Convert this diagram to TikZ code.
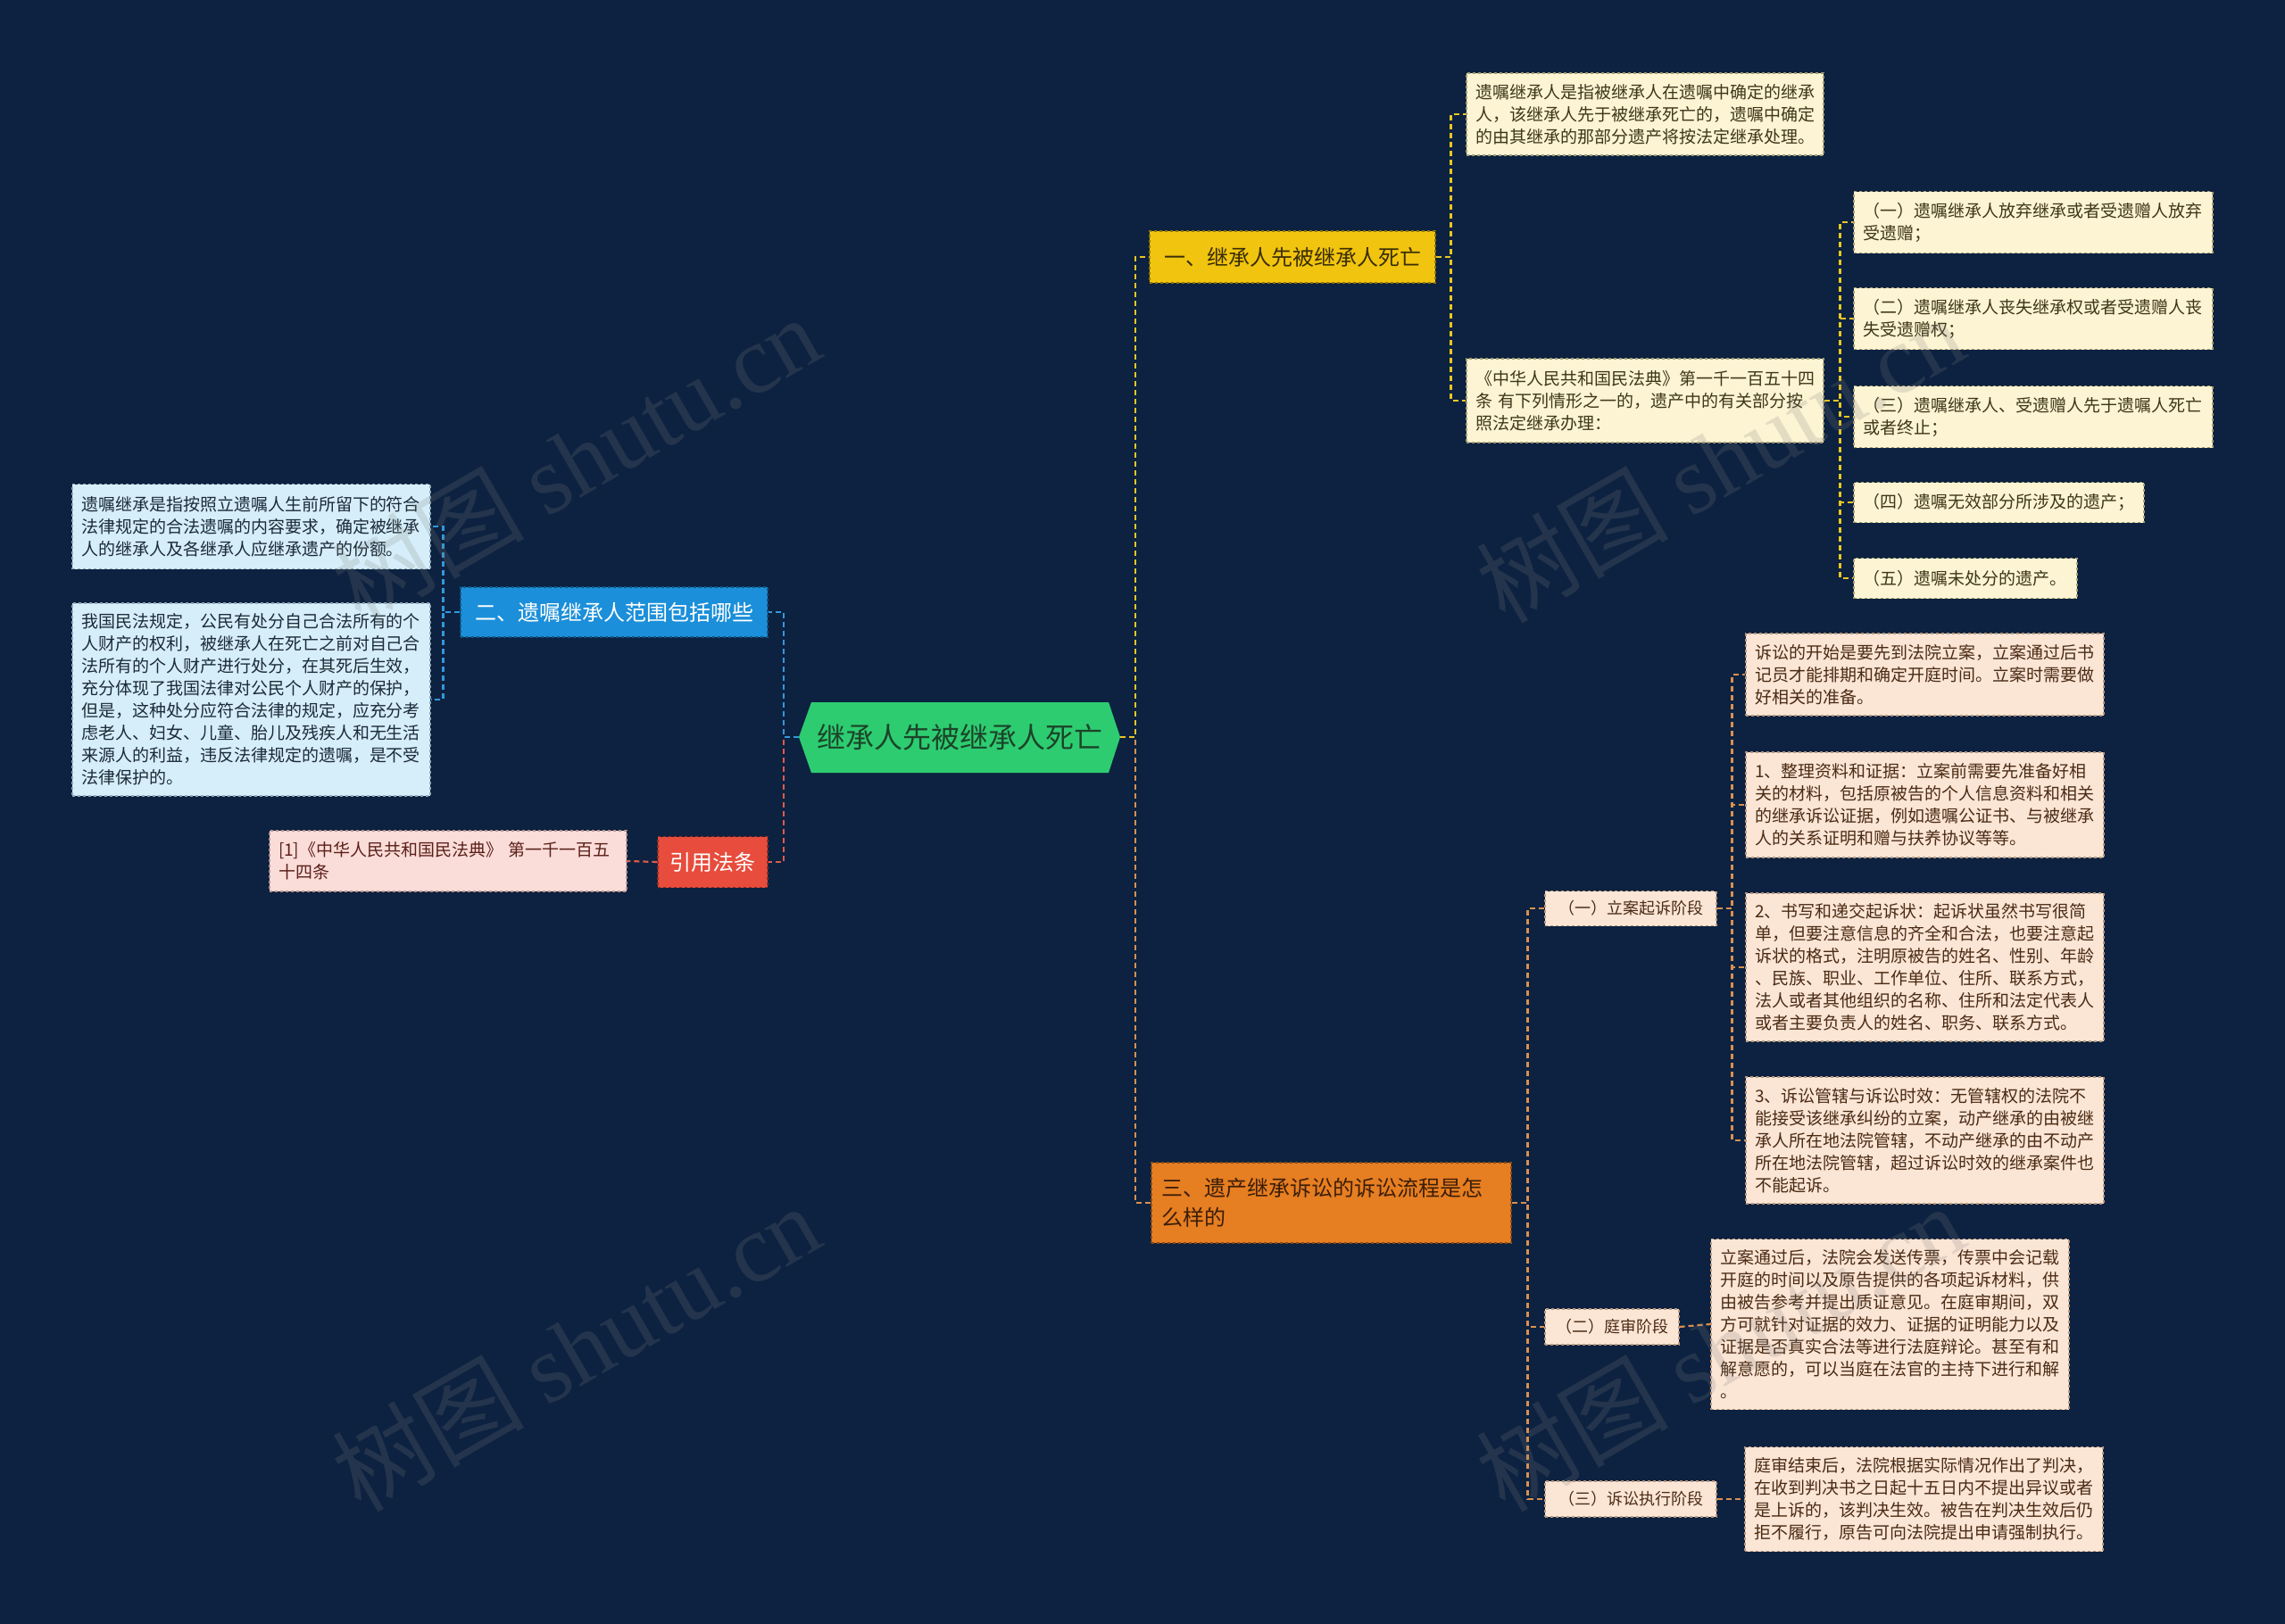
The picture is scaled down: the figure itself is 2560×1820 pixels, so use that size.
\documentclass[tikz,border=0pt]{standalone}
\usepackage{fontspec}
\setmainfont{Noto Sans CJK SC}
\newfontfamily\wmlat{Liberation Serif}
\usetikzlibrary{calc}
\newcommand\fsz[2]{\fontsize{#1}{#2}\selectfont}
\definecolor{bg}{HTML}{0C2240}
\definecolor{rootG}{HTML}{2ECC71}
\definecolor{rootT}{HTML}{1B4429}
\definecolor{yel}{HTML}{F1C40F}
\definecolor{yelT}{HTML}{3A2E05}
\definecolor{yelLeaf}{HTML}{FCF4D3}
\definecolor{yelLeafT}{HTML}{3E3619}
\definecolor{yelB}{HTML}{A89C70}
\definecolor{yelLine}{HTML}{E9C623}
\definecolor{ora}{HTML}{E67E22}
\definecolor{oraT}{HTML}{3C1E08}
\definecolor{peach}{HTML}{FBE5D5}
\definecolor{peachT}{HTML}{4A2B14}
\definecolor{peachB}{HTML}{B8977E}
\definecolor{oraLine}{HTML}{D99050}
\definecolor{blu}{HTML}{1B8FD9}
\definecolor{bluLeaf}{HTML}{D6EEF9}
\definecolor{bluLeafT}{HTML}{1B2B38}
\definecolor{bluB}{HTML}{8FAABB}
\definecolor{bluLine}{HTML}{3498DB}
\definecolor{redB}{HTML}{E74C3C}
\definecolor{pink}{HTML}{FADCD8}
\definecolor{pinkT}{HTML}{5A1F18}
\definecolor{pinkB}{HTML}{B89490}
\definecolor{redLine}{HTML}{E05A4C}
\tikzset{
  conn/.style={line width=2.2pt, dash pattern=on 6pt off 4pt},
  cy/.style={conn, draw=yelLine},
  co/.style={conn, draw=oraLine},
  cb/.style={conn, draw=bluLine},
  cr/.style={conn, draw=redLine},
  boxbase/.style={dashed, line width=1.1pt, inner ysep=0pt, anchor=center},
  branch/.style={boxbase, font=\fsz{24}{30}, align=center, inner xsep=0pt},
  bY/.style={branch, fill=yel, draw=yel!60!black, text=yelT},
  bB/.style={branch, fill=blu, draw=blu!60!black, text=white},
  bR/.style={branch, fill=redB, draw=redB!60!black, text=white},
  bO/.style={boxbase, fill=ora, draw=ora!60!black, text=oraT, font=\fsz{24}{33}, align=left, inner xsep=11pt},
  leaf/.style={boxbase, font=\fsz{19}{25}, align=left, inner xsep=10pt},
  lY/.style={leaf, fill=yelLeaf, draw=yelB, text=yelLeafT},
  lP/.style={leaf, fill=peach, draw=peachB, text=peachT},
  lB/.style={leaf, fill=bluLeaf, draw=bluB, text=bluLeafT},
  lK/.style={leaf, fill=pink, draw=pinkB, text=pinkT},
  stage/.style={boxbase, fill=peach, draw=peachB, text=peachT, font=\fsz{18}{22}, align=center, inner xsep=0pt},
  wm/.style={rotate=30, text=gray, opacity=0.2, font=\fsz{108}{112}}
}
\begin{document}
\begin{tikzpicture}[x=1pt,y=-1pt]
\fill[bg] (0,0) rectangle (2560,1820);
\useasboundingbox (0,0) rectangle (2560,1820);

% root hexagon
\fill[rootG] (895,826) -- (909,787) -- (1242,787) -- (1255,826) -- (1242,866) -- (909,866) -- cycle;
\node[minimum width=360pt, minimum height=79pt, inner sep=0pt, text=rootT, font=\fsz{32}{38}] (root) at (1075,826) {继承人先被继承人死亡};

% branch 1
\node[bY, minimum width=320pt, minimum height=58pt] (b1) at (1448,288) {一、继承人先被继承人死亡};
\node[lY, text width=380pt, minimum height=92pt] (l1a) at (1843,128) {遗嘱继承人是指被继承人在遗嘱中确定的继承\\人，该继承人先于被继承死亡的，遗嘱中确定\\的由其继承的那部分遗产将按法定继承处理。};
\node[lY, text width=380pt, minimum height=94pt] (l1b) at (1843,449) {《中华人民共和国民法典》第一千一百五十四\\条 有下列情形之一的，遗产中的有关部分按\\照法定继承办理：};
\node[lY, text width=382pt, minimum height=69pt] (i1) at (2278,249) {（一）遗嘱继承人放弃继承或者受遗赠人放弃\\受遗赠；};
\node[lY, text width=382pt, minimum height=69pt] (i2) at (2278,357) {（二）遗嘱继承人丧失继承权或者受遗赠人丧\\失受遗赠权；};
\node[lY, text width=382pt, minimum height=69pt] (i3) at (2278,467) {（三）遗嘱继承人、受遗赠人先于遗嘱人死亡\\或者终止；};
\node[lY, text width=305pt, minimum height=45pt] (i4) at (2239.5,563) {（四）遗嘱无效部分所涉及的遗产；};
\node[lY, text width=230pt, minimum height=45pt] (i5) at (2202,648) {（五）遗嘱未处分的遗产。};

% branch 2
\node[bB, minimum width=344pt, minimum height=56pt] (b2) at (688,686) {二、遗嘱继承人范围包括哪些};
\node[lB, text width=381pt, minimum height=95pt] (l2a) at (281.5,590) {遗嘱继承是指按照立遗嘱人生前所留下的符合\\法律规定的合法遗嘱的内容要求，确定被继承\\人的继承人及各继承人应继承遗产的份额。};
\node[lB, text width=381pt, minimum height=216pt] (l2b) at (281.5,784) {我国民法规定，公民有处分自己合法所有的个\\人财产的权利，被继承人在死亡之前对自己合\\法所有的个人财产进行处分，在其死后生效，\\充分体现了我国法律对公民个人财产的保护，\\但是，这种处分应符合法律的规定，应充分考\\虑老人、妇女、儿童、胎儿及残疾人和无生活\\来源人的利益，违反法律规定的遗嘱，是不受\\法律保护的。};

% references
\node[bR, minimum width=123pt, minimum height=57pt] (br) at (798.5,966) {引用法条};
\node[lK, text width=380pt, minimum height=68pt] (lr) at (502,965) {[1]《中华人民共和国民法典》 第一千一百五\\十四条};

% branch 3
\node[bO, text width=381pt, minimum height=90pt] (b3) at (1491.5,1348) {三、遗产继承诉讼的诉讼流程是怎\\么样的};
\node[stage, minimum width=192pt, minimum height=39pt] (s1) at (1827,1018) {（一）立案起诉阶段};
\node[stage, minimum width=150pt, minimum height=40pt] (s2) at (1806,1487) {（二）庭审阶段};
\node[stage, minimum width=192pt, minimum height=40pt] (s3) at (1827,1680) {（三）诉讼执行阶段};

\node[lP, text width=381pt, minimum height=92pt] (d0) at (2156.5,756) {诉讼的开始是要先到法院立案，立案通过后书\\记员才能排期和确定开庭时间。立案时需要做\\好相关的准备。};
\node[lP, text width=381pt, minimum height=118pt] (d1) at (2156.5,902) {1、整理资料和证据：立案前需要先准备好相\\关的材料，包括原被告的个人信息资料和相关\\的继承诉讼证据，例如遗嘱公证书、与被继承\\人的关系证明和赠与扶养协议等等。};
\node[lP, text width=381pt, minimum height=166pt] (d2) at (2156.5,1084) {2、书写和递交起诉状：起诉状虽然书写很简\\单，但要注意信息的齐全和合法，也要注意起\\诉状的格式，注明原被告的姓名、性别、年龄\\、民族、职业、工作单位、住所、联系方式，\\法人或者其他组织的名称、住所和法定代表人\\或者主要负责人的姓名、职务、联系方式。};
\node[lP, text width=381pt, minimum height=142pt] (d3) at (2156.5,1278) {3、诉讼管辖与诉讼时效：无管辖权的法院不\\能接受该继承纠纷的立案，动产继承的由被继\\承人所在地法院管辖，不动产继承的由不动产\\所在地法院管辖，超过诉讼时效的继承案件也\\不能起诉。};
\node[lP, text width=381pt, minimum height=191pt] (d4) at (2117.5,1484) {立案通过后，法院会发送传票，传票中会记载\\开庭的时间以及原告提供的各项起诉材料，供\\由被告参考并提出质证意见。在庭审期间，双\\方可就针对证据的效力、证据的证明能力以及\\证据是否真实合法等进行法庭辩论。甚至有和\\解意愿的，可以当庭在法官的主持下进行和解\\。};
\node[lP, text width=381pt, minimum height=117pt] (d5) at (2155.5,1680) {庭审结束后，法院根据实际情况作出了判决，\\在收到判决书之日起十五日内不提出异议或者\\是上诉的，该判决生效。被告在判决生效后仍\\拒不履行，原告可向法院提出申请强制执行。};

% connectors right
\draw[co] (root.east) -- ++(17,0) |- (b3.west);
\draw[cy] (root.east) -- ++(17,0) |- (b1.west);
\draw[cy] (b1.east) -- ++(17,0) |- (l1a.west);
\draw[cy] (b1.east) -- ++(17,0) |- (l1b.west);
\foreach \n in {i1,i2,i3,i4,i5} \draw[cy] (l1b.east) -- ++(18,0) |- (\n.west);
\foreach \n in {s1,s2,s3} \draw[co] (b3.east) -- ++(18,0) |- (\n.west);
\foreach \n in {d0,d1,d2,d3} \draw[co] (s1.east) -- ++(17,0) |- (\n.west);
\draw[co] (s2.east) -- (d4.west);
\draw[co] (s3.east) -- (d5.west);
% connectors left
\draw[cr] (root.west) -- ++(-17,0) |- (br.east);
\draw[cb] (root.west) -- ++(-17,0) |- (b2.east);
\draw[cb] (b2.west) -- ++(-19,0) |- (l2a.east);
\draw[cb] (b2.west) -- ++(-19,0) |- (l2b.east);
\draw[cr] (br.west) -- (lr.east);

% watermarks
\node[wm] (wm1) at (645,514) {树图 {\wmlat shutu.cn}};
\node[wm] (wm2) at (1927,514) {树图 {\wmlat shutu.cn}};
\node[wm] (wm3) at (645,1510) {树图 {\wmlat shutu.cn}};
\node[wm] (wm4) at (1927,1510) {树图 {\wmlat shutu.cn}};
\end{tikzpicture}
\end{document}
